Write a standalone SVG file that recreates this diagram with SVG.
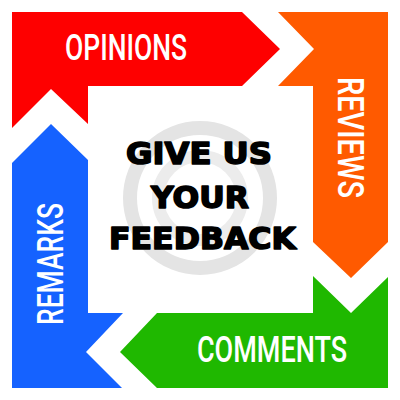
<svg xmlns="http://www.w3.org/2000/svg" width="400" height="400" viewBox="0 0 400 400">
<style>
.lbl{font-family:Roboto,"Liberation Sans",sans-serif;font-size:36px;fill:#ffffff;font-weight:500}
.ctr{font-family:"DejaVu Sans","Liberation Sans",sans-serif;font-size:30px;font-weight:bold;fill:#000000;stroke:#000000;stroke-width:1.6;stroke-linejoin:round}
</style>
<rect width="400" height="400" fill="#ffffff"/>
<g id="watermark" fill="none">
<circle cx="200" cy="198" r="70" stroke="#e4e4e4" stroke-width="14"/>
<circle cx="200" cy="198" r="42" stroke="#ececec" stroke-width="12"/>
</g>
<g id="opinions">
<polygon points="12,12 242,12 280,49 242,86 88,86 88,124 51,89 12,128" fill="#fe0000"/>
<text class="lbl" x="65" y="60" textLength="122" lengthAdjust="spacingAndGlyphs">OPINIONS</text>
</g>
<g id="reviews">
<polygon points="278,12 388,12 388,242 351,278 313,242 313,86 278,86 314,49" fill="#ff5a00"/>
<text class="lbl" transform="translate(338,77) rotate(90)" x="0" y="0" textLength="121" lengthAdjust="spacingAndGlyphs">REVIEWS</text>
</g>
<g id="comments">
<polygon points="120,352 157,313 313,313 313,276 351,313 388,277 388,388 157,388" fill="#1fb800"/>
<text class="lbl" x="197" y="362" textLength="150" lengthAdjust="spacingAndGlyphs">COMMENTS</text>
</g>
<g id="remarks">
<polygon points="51,124 88,160 88,313 123,313 86,352 122,388 12,388 12,163" fill="#1562ff"/>
<text class="lbl" transform="translate(63,325) rotate(-90)" x="0" y="0" textLength="122" lengthAdjust="spacingAndGlyphs">REMARKS</text>
</g>
<g id="center">
<text class="ctr" x="126" y="164" textLength="146" lengthAdjust="spacingAndGlyphs">GIVE US</text>
<text class="ctr" x="151" y="208" textLength="98" lengthAdjust="spacingAndGlyphs">YOUR</text>
<text class="ctr" x="109" y="249" textLength="187" lengthAdjust="spacingAndGlyphs">FEEDBACK</text>
</g>
<g id="connectors"></g>
</svg>
